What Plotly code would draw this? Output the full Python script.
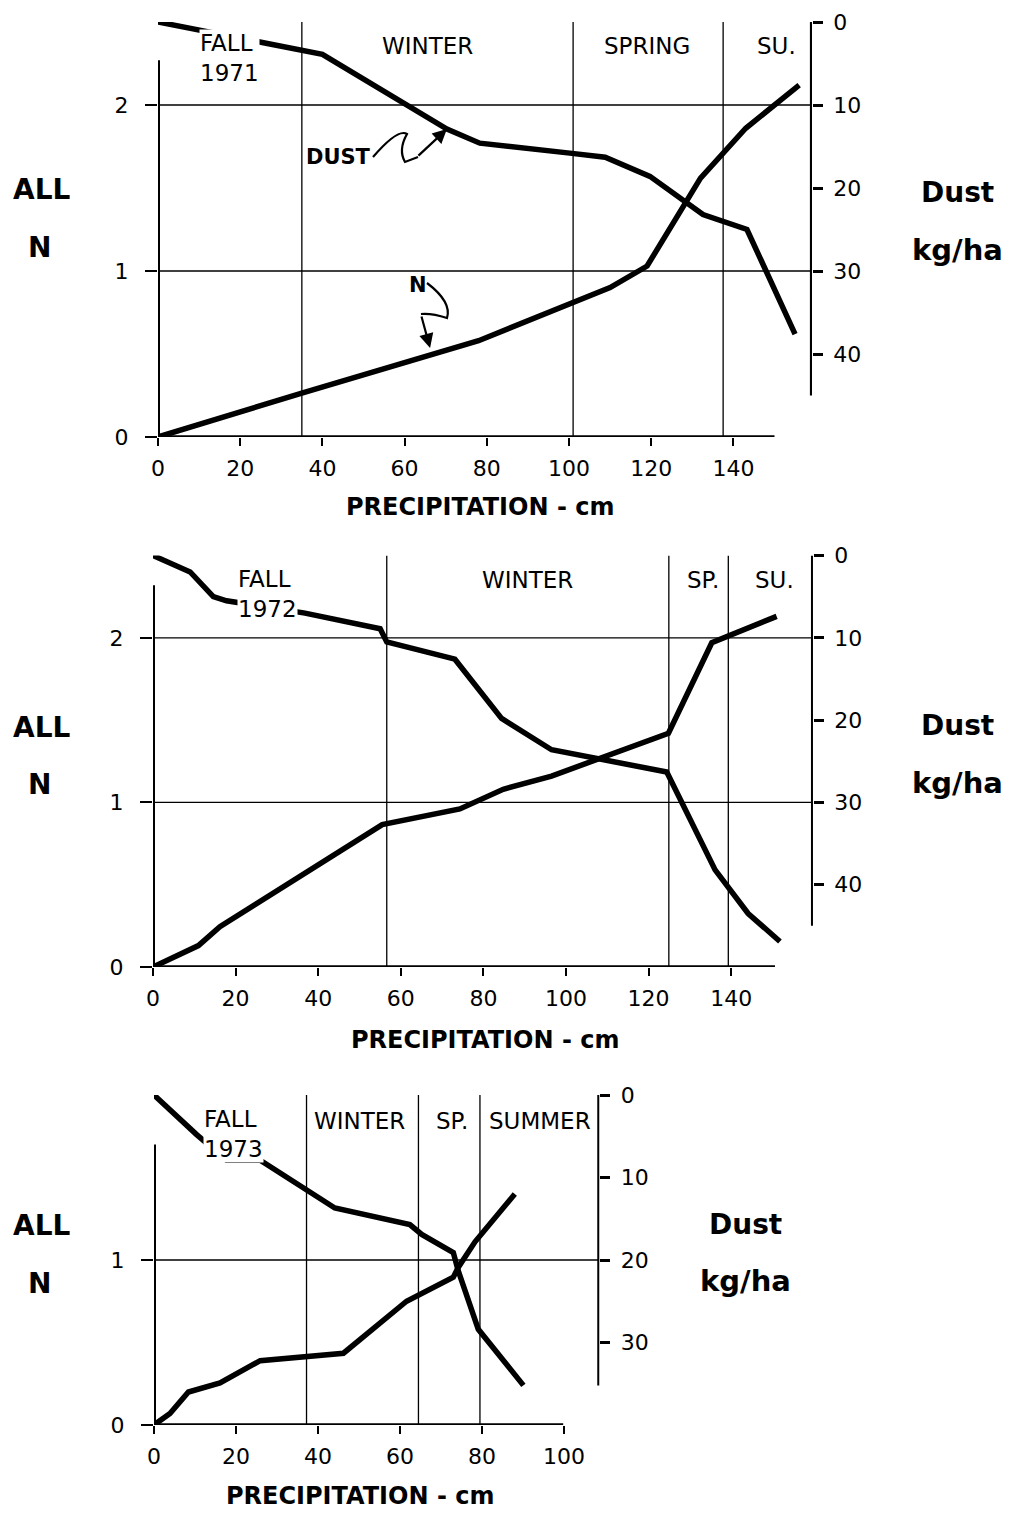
import plotly.graph_objects as go

W, H = 1012, 1513

# ---------------- DATA ----------------
# 1971-72
x_n_1971 = [0, 35, 78, 110, 119, 132, 143, 156]
n_1971 = [0, 0.265, 0.58, 0.90, 1.03, 1.56, 1.86, 2.12]
x_dust_1971 = [0, 40, 70.3, 78.3, 100.2, 108.8, 119.7, 132.6, 143.3, 155]
dust_1971 = [0, 3.9, 12.9, 14.6, 15.8, 16.3, 18.6, 23.2, 25.0, 37.6]
seasons_1971 = ["FALL<br>1971", "WINTER", "SPRING", "SU."]
season_x_1971 = [17.5, 65.5, 119, 150.4]
bounds_1971 = [35, 101, 137.5]

# 1972-73
x_n_1972 = [0, 11, 16.2, 55.5, 74.3, 84.8, 96.5, 124.8, 135.3, 151]
n_1972 = [0, 0.13, 0.245, 0.865, 0.96, 1.08, 1.16, 1.42, 1.97, 2.13]
x_dust_1972 = [0, 9, 14.6, 17.8, 36.8, 55.0, 56.6, 73.1, 84.4, 96.5, 124.4, 136.1, 144.1, 151.8]
dust_1972 = [0, 2.0, 5.0, 5.5, 7.0, 8.9, 10.5, 12.6, 19.8, 23.6, 26.3, 38.2, 43.5, 46.9]
seasons_1972 = ["FALL<br>1972", "WINTER", "SP.", "SU."]
season_x_1972 = [27.8, 90.6, 133.2, 150.6]
bounds_1972 = [56.6, 124.9, 139.3]

# 1973-74
x_n_1973 = [0, 3.9, 8.4, 16.1, 25.9, 46.2, 61.6, 73, 74.2, 78.3, 88]
n_1973 = [0, 0.07, 0.2, 0.255, 0.39, 0.435, 0.75, 0.895, 0.955, 1.11, 1.4]
x_dust_1973 = [0, 5.1, 10.4, 17.7, 25.9, 44.1, 62.4, 65.3, 73, 74.2, 79.1, 90.1]
dust_1973 = [0, 2.4, 4.8, 7.9, 7.9, 13.7, 15.7, 16.9, 19.1, 21.3, 28.4, 35.2]
seasons_1973 = ["FALL<br>1973", "WINTER", "SP.", "SUMMER"]
season_x_1973 = [19.3, 50.2, 72.7, 94.1]
bounds_1973 = [37.2, 64.5, 79.5]

x_ticks_long = [0, 20, 40, 60, 80, 100, 120, 140]
x_ticks_short = [0, 20, 40, 60, 80, 100]
n_ticks_long = [0, 1, 2]
n_ticks_short = [0, 1]
dust_ticks_long = [0, 10, 20, 30, 40]
dust_ticks_short = [0, 10, 20, 30]

# ---------------- LAYOUT GEOMETRY (pixels) ----------------
panels = [
    dict(x0=158, pxcm=4.11, xmax=159.1, y0=437, ytop=22, nmax=2.5, dmax=50,
         xaxis_end=150, left_top=2.27, right_end=45,
         xn=x_n_1971, n=n_1971, xd=x_dust_1971, d=dust_1971,
         seasons=seasons_1971, sx=season_x_1971, bounds=bounds_1971,
         xt=x_ticks_long, nt=n_ticks_long, dt=dust_ticks_long, grid=[1, 2],
         row1=46, row2=70, title_y=507, ally=190, ny=247, dustx=957, dusty=192, kgy=250, titlex=480),
    dict(x0=153, pxcm=4.13, xmax=159.8, y0=967, ytop=555.5, nmax=2.5, dmax=50,
         xaxis_end=150.6, left_top=2.32, right_end=45,
         xn=x_n_1972, n=n_1972, xd=x_dust_1972, d=dust_1972,
         seasons=seasons_1972, sx=season_x_1972, bounds=bounds_1972,
         xt=x_ticks_long, nt=n_ticks_long, dt=dust_ticks_long, grid=[1, 2],
         row1=580, row2=608, title_y=1040, ally=727, ny=785, dustx=957, dusty=725, kgy=783, titlex=485),
    dict(x0=154, pxcm=4.1, xmax=108.6, y0=1425, ytop=1095, nmax=2.0, dmax=40,
         xaxis_end=99.8, left_top=1.70, right_end=35.2,
         xn=x_n_1973, n=n_1973, xd=x_dust_1973, d=dust_1973,
         seasons=seasons_1973, sx=season_x_1973, bounds=bounds_1973,
         xt=x_ticks_short, nt=n_ticks_short, dt=dust_ticks_short, grid=[1],
         row1=1121, row2=1147, title_y=1496, ally=1225, ny=1283, dustx=745, dusty=1224, kgy=1281, titlex=360),
]

TICKFONT = dict(family="DejaVu Sans", size=22, color="black")
SEASONFONT = dict(family="DejaVu Sans", size=23, color="black")
BOLD = "DejaVu Sans"

fig = go.Figure()
layout = dict(width=W, height=H, margin=dict(l=0, r=0, t=0, b=0, pad=0, autoexpand=False),
              paper_bgcolor="white", plot_bgcolor="white", showlegend=False)
shapes, annotations = [], []


def nm(axis, i):
    return axis if i == 1 else f"{axis}{i}"


def key(axis, i):
    return f"{axis}axis" if i == 1 else f"{axis}axis{i}"


def px(x):
    return x / W


def py(y):
    return 1 - y / H


def label(text, xpx, ypx, size):
    return dict(text=text, xref="paper", yref="paper", x=px(xpx), y=py(ypx),
                xanchor="center", yanchor="middle", showarrow=False,
                font=dict(family=BOLD, size=size, color="black"))


for k, p in enumerate(panels):
    ib, it = 2 * k + 1, 2 * k + 2
    xb = nm("x", ib)
    yl, yr = nm("y", ib), nm("y", it)
    xdom = [px(p["x0"]), px(p["x0"] + p["pxcm"] * p["xmax"])]
    ydom = [py(p["y0"]), py(p["ytop"])]

    layout[key("x", ib)] = dict(domain=xdom, range=[0, p["xmax"]], anchor=yl, automargin=False,
                               tickvals=p["xt"], ticks="outside", ticklen=8, tickwidth=2,
                               tickcolor="black", showline=False, showgrid=False, zeroline=False,
                               tickfont=TICKFONT, ticklabelstandoff=4)
    layout[key("x", it)] = dict(overlaying=xb, side="top", anchor=yl, range=[0, p["xmax"]],
                               automargin=False,
                               tickvals=[v for v in p["xt"] if v > 0], ticks="outside", ticklen=9,
                               tickwidth=2, tickcolor="black", showticklabels=False,
                               showline=True, linewidth=3, linecolor="black",
                               showgrid=False, zeroline=False)
    layout[key("y", ib)] = dict(domain=ydom, range=[0, p["nmax"]], anchor=xb, automargin=False,
                               tickvals=p["nt"], ticks="outside", ticklen=12, tickwidth=1.5,
                               tickcolor="black", showline=False, showgrid=False, zeroline=False,
                               tickfont=TICKFONT, ticklabelstandoff=12)
    layout[key("y", it)] = dict(overlaying=yl, side="right", anchor=xb, range=[p["dmax"], 0],
                               automargin=False,
                               tickvals=p["dt"], ticks="outside", ticklen=10, tickwidth=2.5,
                               tickcolor="black", showline=False, showgrid=False, zeroline=False,
                               tickfont=TICKFONT, ticklabelstandoff=6)

    # data lines
    fig.add_trace(go.Scatter(x=p["xn"], y=p["n"], mode="lines", xaxis=xb, yaxis=yl,
                             line=dict(color="black", width=5.5), name="N"))
    fig.add_trace(go.Scatter(x=p["xd"], y=p["d"], mode="lines", xaxis=xb, yaxis=yr,
                             line=dict(color="black", width=5.5), name="Dust"))

    # season boundaries
    for b in p["bounds"]:
        shapes.append(dict(type="line", xref=xb, yref=yl, x0=b, x1=b, y0=0, y1=p["nmax"],
                           line=dict(color="black", width=1.3), layer="below"))
    # horizontal grid lines
    for g in p["grid"]:
        shapes.append(dict(type="line", xref=xb, yref=yl, x0=0, x1=p["xmax"], y0=g, y1=g,
                           line=dict(color="black", width=1.3), layer="below"))
    # axis lines
    shapes.append(dict(type="line", xref=xb, yref=yl, x0=0, x1=p["xaxis_end"], y0=0, y1=0,
                       line=dict(color="black", width=3.5)))
    shapes.append(dict(type="line", xref=xb, yref=yl, x0=0, x1=0, y0=0, y1=p["left_top"],
                       line=dict(color="black", width=4)))
    shapes.append(dict(type="line", xref=xb, yref=yr, x0=p["xmax"], x1=p["xmax"], y0=0,
                       y1=p["right_end"], line=dict(color="black", width=4)))

    # season labels
    for lab, sx in zip(p["seasons"], p["sx"]):
        two = "<br>" in lab
        ypx = (p["row1"] + p["row2"]) / 2 if two else p["row1"]
        annotations.append(dict(text=lab, xref=xb, yref="paper", x=sx, y=py(ypx),
                                showarrow=False, font=SEASONFONT, align="left",
                                xanchor="center", yanchor="middle",
                                bgcolor="white" if two else None, borderpad=0))

    # axis titles
    annotations.append(label("<b>PRECIPITATION - cm</b>", p["titlex"], p["title_y"], 24))
    annotations.append(label("<b>ALL</b>", 42, p["ally"], 28))
    annotations.append(label("<b>N</b>", 39, p["ny"], 28))
    annotations.append(label("<b>Dust</b>", p["dustx"], p["dusty"], 28))
    annotations.append(label("<b>kg/ha</b>", p["dustx"], p["kgy"], 29))

# squiggly pointer leaders in first panel (pixel-based decoration)
dust_leader = "M {},{} Q {},{} {},{} Q {},{} {},{} L {},{}".format(
    px(373), py(157), px(398), py(128), px(407), py(134),
    px(398), py(150), px(405), py(162), px(418), py(157))
n_leader = "M {},{} Q {},{} {},{} Q {},{} {},{}".format(
    px(427), py(283), px(452), py(302), px(447), py(318),
    px(432), py(313), px(421), py(314))
for path in (dust_leader, n_leader):
    shapes.append(dict(type="path", xref="paper", yref="paper", path=path,
                       line=dict(color="black", width=2.2)))

annotations.append(label("<b>DUST</b>", 338, 157, 21))
annotations.append(label("<b>N</b>", 418, 285, 21))
annotations.append(dict(text="", x=70.3, y=12.9, xref="x", yref="y2",
                        ax=-30, ay=28, showarrow=True, arrowhead=2, arrowsize=1.3,
                        arrowwidth=2.2, arrowcolor="black", standoff=0))
annotations.append(dict(text="", x=66.2, y=0.536, xref="x", yref="y",
                        ax=-9, ay=-33, showarrow=True, arrowhead=2, arrowsize=1.3,
                        arrowwidth=2.2, arrowcolor="black", standoff=0))

layout["shapes"] = shapes
layout["annotations"] = annotations
fig.update_layout(**layout)
fig.write_html("out.html")
